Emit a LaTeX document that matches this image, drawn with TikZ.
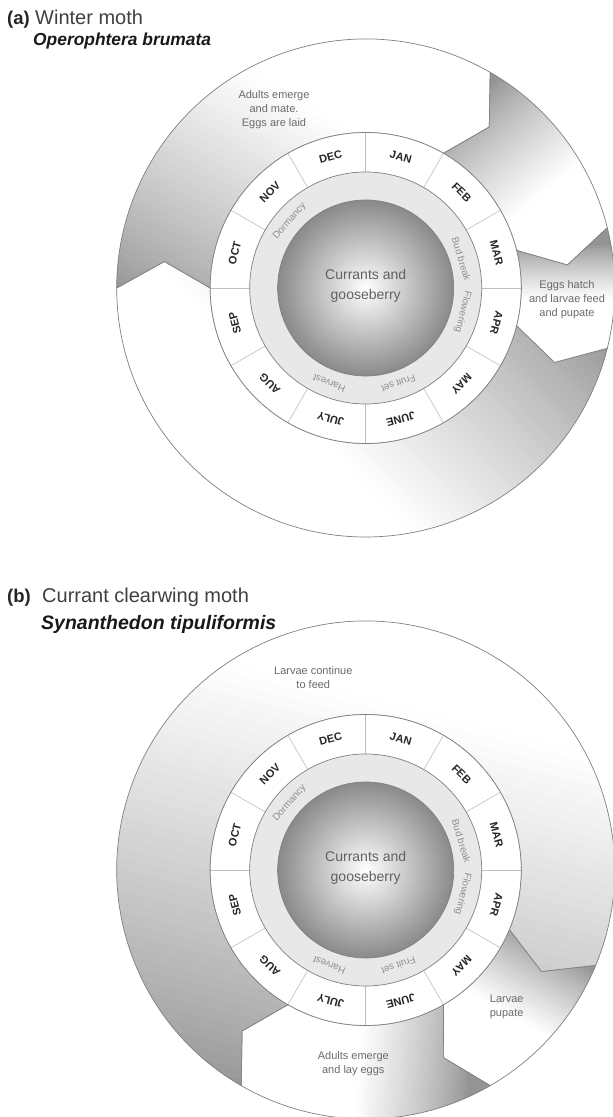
\documentclass[tikz,border=0pt]{standalone}
\usepackage{fontspec}
\setmainfont{Liberation Sans}
\usetikzlibrary{calc}
\definecolor{segdark}{gray}{0.58}
\definecolor{linegray}{gray}{0.5}
\definecolor{divgray}{gray}{0.75}
\definecolor{ringfill}{gray}{0.91}
\definecolor{txtgray}{gray}{0.42}
\definecolor{phengray}{gray}{0.56}
\definecolor{cropgray}{gray}{0.38}
\def\Ro{249}
\def\Ri{155.5}
\def\Rm{203}
\def\dl{7.5}
\newcommand\segpath[2]{(#1:\Ro) -- (#1-\dl:\Rm) -- (#1:\Ri) arc[start angle=#1, end angle=#2, radius=\Ri] -- (#2-\dl:\Rm) -- (#2:\Ro) arc[start angle=#2, end angle=#1, radius=\Ro] -- cycle}
\newcommand\lingrad[4]{%
  \pgfmathsetmacro\gdx{((#3)-(#1))/10}%
  \pgfmathsetmacro\gdy{((#4)-(#2))/10}%
  \pgfmathsetmacro\gang{atan2(\gdy,\gdx)}%
  \pgfmathsetmacro\glen{10*sqrt(\gdx*\gdx+\gdy*\gdy)}%
  \pgfmathsetmacro\gstep{\glen/40}%
  \begin{scope}[shift={(#1,#2)}, rotate=\gang]
    \fill[segdark] (-700,-700) rectangle (0.5,700);
    \fill[white] (\glen,-700) rectangle (700,700);
    \foreach \k in {0,...,39}{%
      \pgfmathsetmacro\ga{\k*\gstep}%
      \pgfmathsetmacro\gb{(\k+1)*\gstep+0.6}%
      \pgfmathsetmacro\gp{100*((\k+0.5)/40)^0.8}%
      \fill[white!\gp!segdark] (\ga,-700) rectangle (\gb,700);
    }
  \end{scope}}
\newcommand\segment[6]{%
  \begin{scope}
    \clip \segpath{#1}{#2};
    \lingrad{#3}{#4}{#5}{#6}
  \end{scope}
  \draw[outl] \segpath{#1}{#2};}
\newcommand\wheel[1]{%
  \fill[white] (0,0) circle (\Ri);
  \foreach \a in {0,30,...,330} \draw[divl] (\a:116) -- (\a:\Ri);
  \draw[outl] (0,0) circle (\Ri);
  \fill[ringfill] (0,0) circle (116);
  \draw[outl] (0,0) circle (116);
  \shade[inner color=white, outer color=black!46] (0,0) circle (88);
  \draw[outl] (0,0) circle (88);
  \foreach \m [count=\i from 0] in {JAN,FEB,MAR,APR,MAY,JUNE,JULY,AUG,SEP,OCT,NOV,DEC}{%
    \node[month, rotate=-15-30*\i] (#1-\m) at (75-30*\i:135.5) {\m};}
  \node[phen, rotate=48.8] (#1-dorm) at (138.8:101) {Dormancy};
  \node[phen, rotate=-73.1] (#1-bud) at (16.9:100) {Bud break};
  \node[phen, rotate=-103.9] (#1-flow) at (-13.9:100) {Flowering};
  \node[phen, rotate=-161] (#1-fruit) at (-71:101) {Fruit set};
  \node[phen, rotate=159] (#1-harv) at (-111:102) {Harvest};
  \node[croptext] (#1-crop) at (0,2) {Currants and\\gooseberry};}
\begin{document}
\begin{tikzpicture}[x=1pt,y=1pt,
  outl/.style={draw=linegray, line width=0.7pt},
  divl/.style={draw=divgray, line width=0.6pt},
  month/.style={font=\fontsize{11}{12}\selectfont\bfseries, text=black!85, inner sep=0pt},
  phen/.style={font=\fontsize{9.8}{11}\selectfont, text=phengray, inner sep=0pt},
  seglabel/.style={font=\fontsize{11}{14}\selectfont, text=txtgray, align=center, inner sep=0pt},
  croptext/.style={font=\fontsize{14}{20}\selectfont, text=cropgray, align=center, inner sep=0pt},
  tlabel/.style={font=\fontsize{18.5}{20}\selectfont\bfseries, text=black!85, anchor=base west, inner sep=0pt},
  tname/.style={font=\fontsize{20}{22}\selectfont, text=black!75, anchor=base west, inner sep=0pt},
  tsci/.style={font=\bfseries\itshape, text=black!90, anchor=base west, inner sep=0pt}]
\useasboundingbox (0,0) rectangle (613,1117);
\fill[white] (0,0) rectangle (613,1117);
% ---------- panel (a)
\node[tlabel] (ta) at (7,1092) {(a)};
\node[tname] (tan) at (35,1092) {Winter moth};
\node[tsci, font=\fontsize{17.4}{20}\selectfont\bfseries\itshape] (tas) at (33,1071) {Operophtera brumata};
\begin{scope}[shift={(365.7,829)}]
  \segment{-14}{-180}{234.3}{-42}{34.3}{-232}
  \segment{180}{60}{-245.7}{-2}{-115.7}{218}
  \segment{60}{14}{119.3}{198}{194.3}{108}
  \segment{14}{-14}{189.3}{43}{189.3}{-12}
  \wheel{a}
  \node[seglabel] (a-adults) at (-91.7,178) {Adults emerge\\and mate.\\Eggs are laid};
  \node[seglabel] (a-eggs) at (201.3,-12) {Eggs hatch\\and larvae feed\\and pupate};
\end{scope}
% ---------- panel (b)
\node[tlabel] (tb) at (7,514) {(b)};
\node[tname] (tbn) at (42,514) {Currant clearwing moth};
\node[tsci, font=\fontsize{19.5}{22}\selectfont\bfseries\itshape] (tbs) at (41,487) {Synanthedon tipuliformis};
\begin{scope}[shift={(365.7,247)}]
  \segment{-22.5}{-60}{174.3}{-70}{134.3}{-140}
  \segment{-60}{-120}{104.3}{-190}{-5.7}{-180}
  \segment{240}{-22.5}{-165.7}{-210}{-65.7}{190}
  \wheel{b}
  \node[seglabel] (b-larvae) at (-52.4,192) {Larvae continue\\to feed};
  \node[seglabel] (b-pupate) at (141,-136.7) {Larvae\\pupate};
  \node[seglabel] (b-adults) at (-12.4,-193.3) {Adults emerge\\and lay eggs};
\end{scope}
\end{tikzpicture}
\end{document}
